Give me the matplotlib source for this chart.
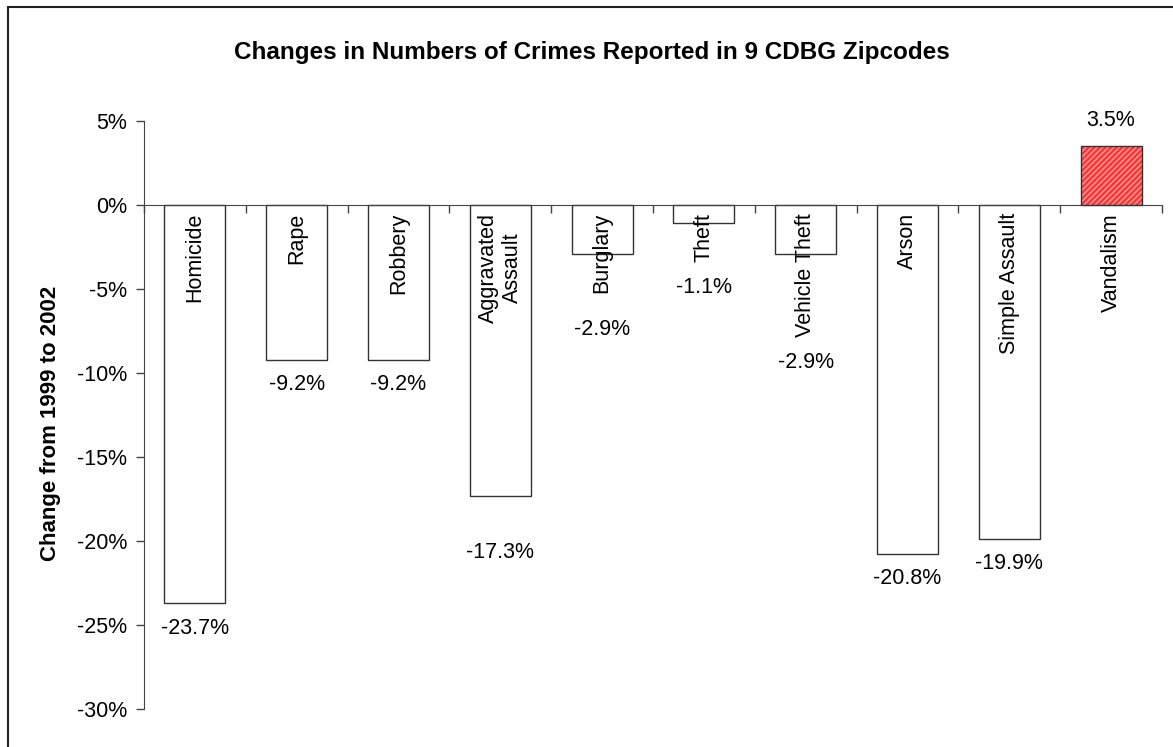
import matplotlib
matplotlib.use("Agg")
import matplotlib.pyplot as plt
from matplotlib.patches import Rectangle

plt.rcParams["font.family"] = ["Liberation Sans", "DejaVu Sans"]

categories = ["Homicide", "Rape", "Robbery", "Aggravated\nAssault", "Burglary",
              "Theft", "Vehicle Theft", "Arson", "Simple Assault", "Vandalism"]
changes = [-23.7, -9.2, -9.2, -17.3, -2.9, -1.1, -2.9, -20.8, -19.9, 3.5]
value_labels = ["-23.7%", "-9.2%", "-9.2%", "-17.3%", "-2.9%", "-1.1%",
                "-2.9%", "-20.8%", "-19.9%", "3.5%"]
# pixel gap between bar end and value label centre (as laid out in the original)
label_gap = [25, 25, 25, 57, 76, 64, 109, 24, 24, 26]
yticks = [5, 0, -5, -10, -15, -20, -25, -30]

fig = plt.figure(figsize=(11.73, 7.47), dpi=100)
ax = fig.add_axes([144 / 1173, 1 - 709 / 747, (1162 - 144) / 1173, (709 - 121) / 747])

x = [i + 0.5 for i in range(len(changes))]
colors = ["white"] * (len(changes) - 1)
ax.bar(x[:-1], changes[:-1], width=0.6, color=colors, edgecolor="#333333", linewidth=1.0, zorder=2)
# vandalism: red hatched bar
ax.bar(x[-1], changes[-1], width=0.6, color="#f23a3a", edgecolor="#ff9a9a", hatch="//////",
       linewidth=0, zorder=2)
ax.bar(x[-1], changes[-1], width=0.6, fill=False, edgecolor="#333333", linewidth=1.0, zorder=3)

ax.set_xlim(0, len(changes))
ax.set_ylim(-30, 5)
ax.set_yticks(yticks)
ax.set_yticklabels(["%d%%" % t for t in yticks], fontsize=15.5)
ax.set_xticks(range(len(changes) + 1))
ax.set_xticklabels([])
ax.tick_params(axis="both", direction="out", length=6, width=1, color="#444444")
ax.tick_params(axis="y", pad=6)

for s in ["top", "right"]:
    ax.spines[s].set_visible(False)
ax.spines["bottom"].set_position(("data", 0))
ax.spines["bottom"].set_color("#444444")
ax.spines["left"].set_color("#444444")

for xi, name in zip(x, categories):
    ax.annotate(name, (xi, 0), xytext=(0, -8), textcoords="offset pixels",
                rotation=90, ha="center", va="top", multialignment="center",
                fontsize=15.5, zorder=4)

for xi, v, lab, gap in zip(x, changes, value_labels, label_gap):
    off = gap if v > 0 else -gap
    ax.annotate(lab, (xi, v), xytext=(0, off), textcoords="offset pixels",
                ha="center", va="center", fontsize=15.5, zorder=4)

ax.set_ylabel("Change from 1999 to 2002", fontsize=16, fontweight="bold")
ax.yaxis.set_label_coords(-0.082, 0.486)

fig.text(0.505, 1 - 52 / 747, "Changes in Numbers of Crimes Reported in 9 CDBG Zipcodes",
         ha="center", va="center", fontsize=17.5, fontweight="bold")

fig.patches.append(Rectangle((8 / 1173, -0.1), 1.2, 1 - 7 / 747 + 0.1, transform=fig.transFigure,
                             fill=False, edgecolor="#222222", linewidth=1.5))

fig.savefig("out.png", dpi=100)
